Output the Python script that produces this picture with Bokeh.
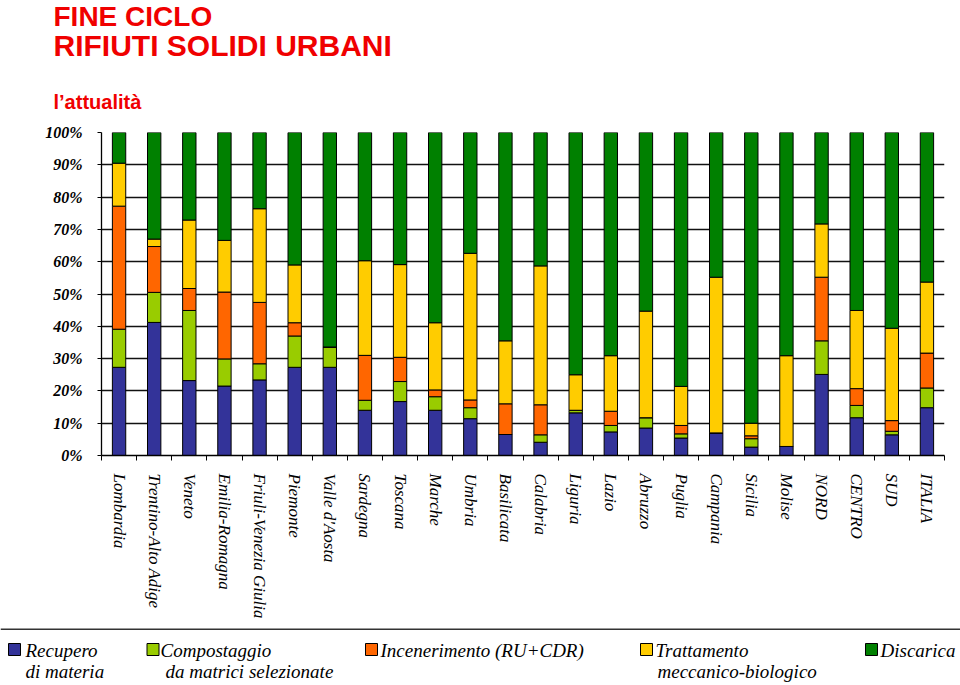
import math
from bokeh.plotting import figure
from bokeh.layouts import column
from bokeh.models import (Range1d, FixedTicker, CustomJSTickFormatter, ColumnDataSource,
                          PrintfTickFormatter)
from bokeh.core.properties import value
from bokeh.embed import file_html
from bokeh.resources import INLINE

# ---------------- data ----------------
regions = ["Lombardia", "Trentino-Alto Adige", "Veneto", "Emilia-Romagna",
           "Friuli-Venezia Giulia", "Piemonte", "Valle d'Aosta", "Sardegna",
           "Toscana", "Marche", "Umbria", "Basilicata", "Calabria", "Liguria",
           "Lazio", "Abruzzo", "Puglia", "Campania", "Sicilia", "Molise",
           "NORD", "CENTRO", "SUD", "ITALIA"]

recupero = [27.3, 41.2, 23.2, 21.5, 23.4, 27.3, 27.3, 14.0, 16.7, 14.0, 11.4, 6.5,
            4.1, 13.2, 7.3, 8.5, 5.4, 7.0, 2.6, 2.8, 25.1, 11.7, 6.4, 14.8]
compostaggio = [11.8, 9.3, 21.7, 8.4, 5.0, 9.7, 6.3, 3.1, 6.2, 4.2, 3.4, 0.0,
                2.3, 0.8, 2.0, 3.2, 1.3, 0.0, 2.6, 0.0, 10.4, 3.8, 1.1, 6.1]
incenerimento = [38.1, 14.2, 6.8, 20.7, 19.0, 4.1, 0.0, 13.9, 7.5, 2.1, 2.4, 9.5,
                 9.3, 0.0, 4.4, 0.0, 2.6, 0.0, 0.9, 0.0, 19.7, 5.2, 3.3, 10.8]
trattamento = [13.3, 2.3, 21.2, 16.0, 29.0, 17.9, 0.0, 29.3, 28.7, 20.8, 45.4, 19.5,
               43.0, 11.0, 17.2, 33.0, 12.1, 48.2, 3.9, 28.1, 16.5, 24.2, 28.6, 22.0]
discarica = [9.5, 33.0, 27.1, 33.4, 23.6, 41.0, 66.4, 39.7, 40.9, 58.9, 37.4, 64.5,
             41.3, 75.0, 69.1, 55.3, 78.6, 44.8, 90.0, 69.1, 28.3, 55.1, 60.6, 46.3]

series_keys = ["recupero", "compostaggio", "incenerimento", "trattamento", "discarica"]
colors = ["#333399", "#99CC00", "#FF6600", "#FFCC00", "#008000"]
legend_line1 = ["Recupero", "Compostaggio", "Incenerimento (RU+CDR)", "Trattamento", "Discarica"]
legend_line2 = ["di materia", "da matrici selezionate", "", "meccanico-biologico", ""]

y_ticks = [0, 10, 20, 30, 40, 50, 60, 70, 80, 90, 100]

title_lines = ["FINE CICLO", "RIFIUTI  SOLIDI  URBANI"]
subtitle = "l\u2019attualità"

W = 960
RED = "#F00000"
n = len(regions)
BASE_SHIFT = 0.35   # text glyph baseline correction, fraction of font size


def plain(fig):
    if "frame_align" in fig.properties():
        fig.frame_align = False
    fig.grid.visible = False
    return fig


def add_text(fig, xs_, baselines, texts, size, font, style, color):
    fig.text(x=xs_, y=[b - BASE_SHIFT * size for b in baselines], text=texts,
             text_font=value(font), text_font_style=style, text_font_size=f"{size}px",
             text_color=color, text_baseline="alphabetic", text_align="left")


# ---------------- title figure ----------------
TH = 120
tf = plain(figure(width=W, height=TH, x_range=Range1d(0, W), y_range=Range1d(TH, 0),
                  toolbar_location=None, output_backend="svg", min_border=0,
                  x_axis_location=None, y_axis_location=None, outline_line_color=None))
add_text(tf, [53], [26], [title_lines[0]], 28, "Liberation Sans", "bold", RED)
add_text(tf, [53], [55], [title_lines[1]], 30, "Liberation Sans", "bold", RED)
add_text(tf, [53], [108], [subtitle], 20, "Liberation Sans", "bold", RED)

# ---------------- chart figure ----------------
CH = 508
xs = [i + 0.5 for i in range(n)]
src = ColumnDataSource(dict(x=xs, recupero=recupero, compostaggio=compostaggio,
                            incenerimento=incenerimento, trattamento=trattamento,
                            discarica=discarica))

p = figure(width=W, height=CH, x_range=Range1d(0, n), y_range=Range1d(0, 100),
           toolbar_location=None, output_backend="svg",
           min_border_left=101, min_border_right=W - 944,
           min_border_top=12, min_border_bottom=173,
           outline_line_color=None)
if "frame_align" in p.properties():
    p.frame_align = False

p.vbar_stack(series_keys, x="x", width=0.38, source=src, color=colors,
             line_color="black", line_width=1)

p.xgrid.visible = False
p.ygrid.ticker = FixedTicker(ticks=y_ticks)
p.ygrid.grid_line_color = "#111111"
p.ygrid.grid_line_width = 1.3

p.yaxis.ticker = FixedTicker(ticks=y_ticks)
p.yaxis.formatter = PrintfTickFormatter(format="%d%%")
p.yaxis.major_label_text_font = "Liberation Serif"
p.yaxis.major_label_text_font_style = "bold italic"
p.yaxis.major_label_text_font_size = "16px"
p.yaxis.major_label_text_color = "black"
p.yaxis.major_tick_out = 4
p.yaxis.major_tick_in = 0
p.yaxis.minor_tick_out = 0
p.yaxis.minor_tick_in = 0
p.yaxis.major_label_standoff = 15
p.yaxis.axis_line_color = "black"
p.yaxis.axis_line_width = 1.3
p.yaxis.major_tick_line_color = "black"

p.xaxis.ticker = FixedTicker(ticks=xs, minor_ticks=list(range(n + 1)))
p.xaxis.formatter = CustomJSTickFormatter(args=dict(names=regions),
                                          code="return names[Math.round(tick - 0.5)];")
p.xaxis.major_label_orientation = -math.pi / 2
p.xaxis.major_label_text_font = "Liberation Serif"
p.xaxis.major_label_text_font_style = "italic"
p.xaxis.major_label_text_font_size = "17px"
p.xaxis.major_label_text_color = "black"
p.xaxis.major_tick_out = 0
p.xaxis.major_tick_in = 0
p.xaxis.minor_tick_out = 5
p.xaxis.minor_tick_in = 0
p.xaxis.minor_tick_line_color = "black"
p.xaxis.major_label_standoff = 13
p.xaxis.axis_line_color = "black"
p.xaxis.axis_line_width = 1.3

# ---------------- legend figure ----------------
LH = 57
lf = plain(figure(width=W, height=LH, x_range=Range1d(0, W), y_range=Range1d(LH, 0),
                  toolbar_location=None, output_backend="svg", min_border=0,
                  x_axis_location=None, y_axis_location=None, outline_line_color=None))
lf.line(x=[0, W], y=[0.5, 0.5], line_color="#333333", line_width=2)
sq_x = [14, 152.5, 371, 646, 871]
lf.rect(x=sq_x, y=[21] * 5, width=12, height=12, fill_color=colors,
        line_color="black", line_width=1)
t1_x = [25, 160, 380, 655, 880]
t2_x = [25, 165, 0, 657, 0]
add_text(lf, t1_x, [28.5] * 5, legend_line1, 19, "Liberation Serif", "italic", "black")
idx2 = [i for i in range(5) if legend_line2[i]]
add_text(lf, [t2_x[i] for i in idx2], [49.5] * len(idx2),
         [legend_line2[i] for i in idx2], 19, "Liberation Serif", "italic", "black")

layout = column(tf, p, lf, spacing=0)
open("out.html", "w").write(file_html(layout, INLINE))
